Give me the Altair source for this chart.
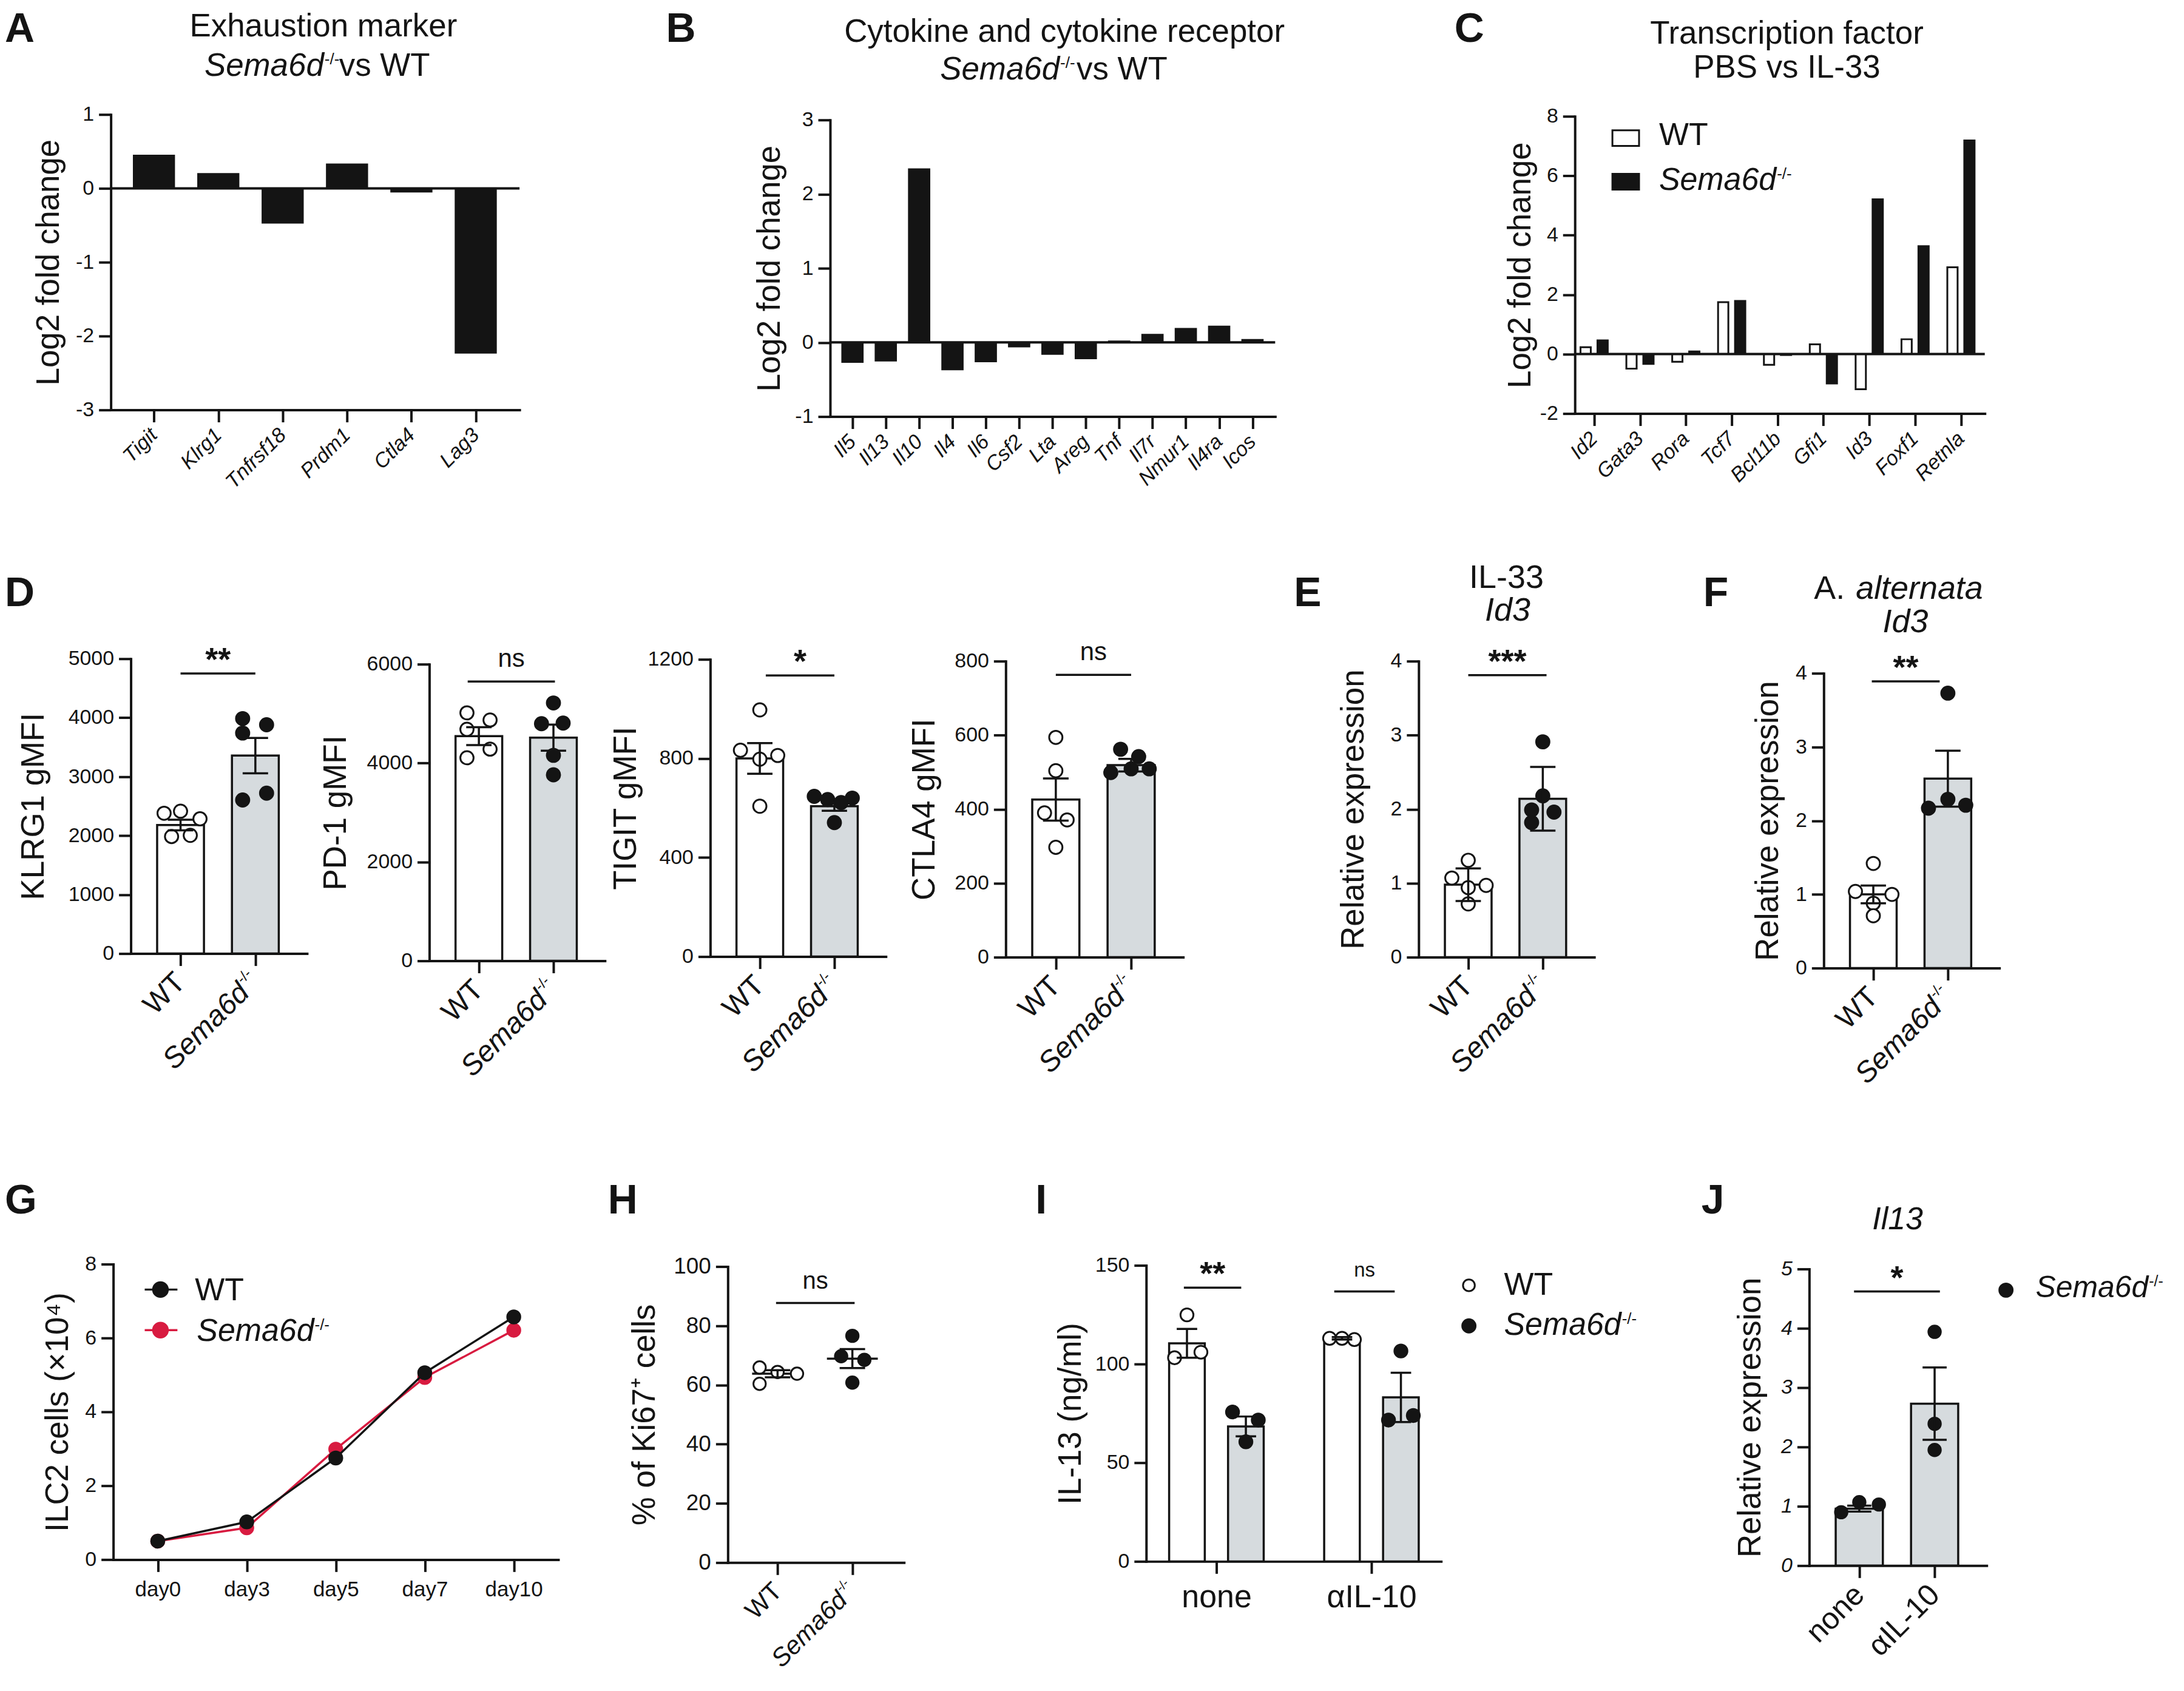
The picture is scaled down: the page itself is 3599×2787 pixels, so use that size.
import altair as alt
import pandas as pd

FONT = "Liberation Sans"
INK = "#141414"
GREY = "#d6dbde"
RED = "#d81b40"
WHITE = "#ffffff"

# ============================ values ============================
genotypes = ["WT", "Sema6d-/-"]
treatments = ["none", "\u03b1IL-10"]
days = ["day0", "day3", "day5", "day7", "day10"]

# A  exhaustion markers (log2 FC)
a_genes = ["Tigit", "Klrg1", "Tnfrsf18", "Prdm1", "Ctla4", "Lag3"]
a_lfc = [0.45, 0.20, -0.47, 0.33, -0.05, -2.23]

# B  cytokines / receptors (log2 FC)
b_genes = ["Il5", "Il13", "Il10", "Il4", "Il6", "Csf2", "Lta", "Areg", "Tnf", "Il7r", "Nmur1", "Il4ra", "Icos"]
b_lfc = [-0.27, -0.25, 2.34, -0.37, -0.26, -0.06, -0.16, -0.22, 0.02, 0.11, 0.19, 0.22, 0.04]

# C  transcription factors, PBS vs IL-33 (log2 FC)
c_genes = ["Id2", "Gata3", "Rora", "Tcf7", "Bcl11b", "Gfi1", "Id3", "Foxf1", "Retnla"]
c_wt = [0.23, -0.49, -0.26, 1.75, -0.36, 0.33, -1.18, 0.50, 2.92]
c_ko = [0.46, -0.33, 0.09, 1.79, -0.03, -0.99, 5.21, 3.63, 7.19]

# D  gMFI panels: means, SEM, individual mice, horizontal jitter slot of each dot
klrg1_mean = [2180, 3357]
klrg1_sem = [90, 300]
klrg1_wt = [2380, 2415, 2285, 1985, 2005]
klrg1_wt_jit = [-0.22, 0.0, 0.26, -0.12, 0.13]
klrg1_ko = [3985, 3880, 3740, 2605, 2720]
klrg1_ko_jit = [-0.17, 0.15, -0.17, -0.17, 0.15]

pd1_mean = [4545, 4514]
pd1_sem = [180, 265]
pd1_wt = [5016, 4871, 4683, 4107, 4282]
pd1_wt_jit = [-0.16, 0.15, -0.16, -0.16, 0.15]
pd1_ko = [5216, 4796, 4809, 4157, 3762]
pd1_ko_jit = [0.0, -0.16, 0.13, 0.0, 0.0]

tigit_mean = [800, 607]
tigit_sem = [62, 18]
tigit_wt = [996, 833, 797, 812, 607]
tigit_wt_jit = [0.0, -0.26, 0.0, 0.24, 0.0]
tigit_ko = [647, 634, 622, 640, 541]
tigit_ko_jit = [-0.27, -0.09, 0.09, 0.24, 0.0]

ctla4_mean = [426, 519]
ctla4_sem = [57, 17]
ctla4_wt = [594, 504, 390, 371, 297]
ctla4_wt_jit = [0.0, 0.0, -0.15, 0.15, 0.0]
ctla4_ko = [562, 542, 499, 509, 509]
ctla4_ko_jit = [-0.14, 0.10, -0.27, 0.0, 0.24]

# E  IL-33, Id3 relative expression
e_mean = [0.98, 2.14]
e_sem = [0.22, 0.43]
e_wt = [1.31, 1.07, 0.94, 0.97, 0.72]
e_wt_jit = [0.0, -0.22, 0.0, 0.24, 0.0]
e_ko = [2.91, 2.18, 1.99, 1.96, 1.82]
e_ko_jit = [0.0, 0.0, -0.15, 0.15, -0.15]

# F  A. alternata, Id3 relative expression
f_mean = [1.00, 2.57]
f_sem = [0.12, 0.38]
f_wt = [1.42, 1.04, 1.00, 0.88, 0.71]
f_wt_jit = [0.0, -0.24, 0.25, 0.0, 0.0]
f_ko = [3.73, 2.29, 2.17, 2.21]
f_ko_jit = [0.0, 0.0, -0.26, 0.24]

# G  ILC2 cells (x10^4)
g_wt = [0.50, 1.02, 2.75, 5.06, 6.57]
g_ko = [0.50, 0.86, 2.99, 4.93, 6.21]

# H  % Ki67+
h_mean = [63.8, 68.9]
h_sem = [1.2, 3.2]
h_wt = [65.9, 60.4, 64.4, 63.8]
h_wt_jit = [-0.24, -0.24, 0.0, 0.26]
h_ko = [76.6, 69.7, 68.5, 60.8]
h_ko_jit = [0.0, -0.15, 0.16, 0.0]

# I  IL-13 (ng/ml), by treatment
i_wt_mean = [110.5, 113.0]
i_wt_sem = [7.3, 0.6]
i_ko_mean = [68.4, 83.1]
i_ko_sem = [5.0, 12.5]
i_wt_pts = [124.9, 103.2, 106.0, 113.0, 113.0, 112.4]
i_wt_grp = [0, 0, 0, 1, 1, 1]
i_wt_jit = [0.0, -0.08, 0.09, -0.08, 0.0, 0.08]
i_ko_pts = [75.7, 71.6, 60.6, 106.6, 71.6, 73.9]
i_ko_grp = [0, 0, 0, 1, 1, 1]
i_ko_jit = [-0.086, 0.08, 0.0, 0.0, -0.08, 0.08]

# J  Il13 relative expression (Sema6d-/-)
j_mean = [0.96, 2.73]
j_sem = [0.05, 0.61]
j_none = [0.90, 1.07, 1.03]
j_none_jit = [-0.24, 0.0, 0.26]
j_ail = [3.94, 2.39, 1.95]
j_ail_jit = [0.0, 0.0, 0.0]

# significance bars: (level, x from, x to, label)
klrg1_sig = (4750, 0.0, 1.0, "**")
pd1_sig = (5650, -0.15, 1.02, "ns")
tigit_sig = (1135, 0.08, 1.0, "*")
ctla4_sig = (763, 0.0, 1.0, "ns")
e_sig = (3.81, 0.0, 1.05, "***")
f_sig = (3.89, -0.02, 0.89, "**")
h_sig = (87.7, -0.02, 1.03, "ns")
i_sig = [(138.7, -0.21, 0.16, "**"), (136.8, 0.76, 1.15, "ns")]
j_sig = (4.62, -0.07, 1.07, "*")

# ============================ layout: plot areas (x, y, w, h) in page pixels ============================
BOX = {
    "A": (183, 186, 675, 488), "B": (1371, 195, 735, 490), "C": (2601, 189, 677, 491),
    "D1": (216, 1085, 291, 487), "D2": (709, 1094, 290, 490), "D3": (1173, 1086, 290, 491),
    "D4": (1661, 1089, 293, 489), "E": (2343, 1089, 290, 489), "F": (3012, 1109, 290, 487),
    "G": (187, 2085, 735, 488), "H": (1202, 2089, 291, 489), "I": (1893, 2087, 487, 489),
    "J": (2988, 2093, 293, 490),
}
OX, OY = 8, 8          # page margin: view origin on the page
W, H = 3591, 2779      # whole drawing
TICK = 20
YLAB = 34              # y tick label size

ONE = pd.DataFrame({"d": [0]})
X2 = [-0.665, 1.69]
XL_PAD = 20
SEMA_EM = 3.724  # advance width of "Sema6d" (Arial metrics) in em
MINUS_FIX = "replace(datum.label, '\u2212', '-')"


def scales(key, xdom, ydom):
    x0, y0, w, h = BOX[key]
    xs = alt.Scale(domain=list(xdom), range=[x0 - OX, x0 - OX + w], nice=False, zero=False)
    ys = alt.Scale(domain=list(ydom), range=[y0 - OY + h, y0 - OY], nice=False, zero=False)
    return xs, ys


def yaxis(key, vals, title, tx, style=None, size=YLAB):
    x0, y0, w, h = BOX[key]
    kw = dict(values=vals, title=title, format="d", labelExpr=MINUS_FIX, labelFontSize=size, orient="left",
              offset=-(x0 - OX), titleX=tx, titleY=y0 - OY + h / 2, titleAngle=270,
              titleBaseline="middle", titleAlign="center")
    if style:
        kw["labelFontStyle"] = style
    return alt.Axis(**kw)


def xaxis(key, labels, size, angle, pad, style=None):
    x0, y0, w, h = BOX[key]
    expr = "[" + ",".join("'" + s + "'" for s in labels) + "][datum.value]"
    kw = dict(values=list(range(len(labels))), labelExpr=expr, title=None, labelFontSize=size,
              labelPadding=pad, labelFlush=False, labelOverlap=False, labelBound=False, labelLimit=0,
              orient="bottom", offset=(y0 - OY + h) - H)
    if angle:
        kw.update(labelAngle=angle, labelAlign="right", labelBaseline="middle")
    else:
        kw.update(labelAngle=0, labelAlign="center", labelBaseline="top")
    if style is not None:
        kw["labelFontStyle"] = style
    return alt.Axis(**kw)


class P:
    """x / y scales and axes of one panel, shared by all of its layers"""
    def __init__(self, key, xdom, ydom, xa, ya):
        self.key = key
        self.xs, self.ys = scales(key, xdom, ydom)
        self.xa, self.ya = xa, ya

    def X(self, f):
        return alt.X(f, scale=self.xs, axis=self.xa)

    def Y(self, f):
        return alt.Y(f, scale=self.ys, axis=self.ya)


def T(s, ax, ay, size, style="normal", weight="normal", align="left"):
    return alt.Chart(ONE).mark_text(text=s, font=FONT, fontSize=size, fontStyle=style, fontWeight=weight,
                                    align=align, baseline="alphabetic", color=INK).encode(
        x=alt.value(ax - OX), y=alt.value(ay - OY))


def T_sema(ax, ay, size, align="left"):
    w = SEMA_EM * size
    xl = ax if align == "left" else ax - w
    return [T("Sema6d", xl, ay, size, style="italic"),
            T("-/-", xl + w + 1, ay - 0.36 * size, round(size * 0.5))]


def sema_tick_label(p, pos, size, pad):
    """rotated 'Sema6d-/-' category label with a raised '-/-', anchored like an axis label"""
    x0, y0, w, h = BOX[p.key]
    yy = y0 - OY + h + TICK + pad
    d = pd.DataFrame({"x": [pos]})
    sup = round(size * 0.5)
    main = alt.Chart(d).mark_text(text="Sema6d", font=FONT, fontSize=size, fontStyle="italic", angle=315,
                                  align="right", baseline="middle", dx=-(0.944 * sup + 2), color=INK).encode(
        x=p.X("x:Q"), y=alt.value(yy))
    s = alt.Chart(d).mark_text(text="-/-", font=FONT, fontSize=sup, angle=315, align="right",
                               baseline="middle", dy=-0.3 * size, color=INK).encode(
        x=p.X("x:Q"), y=alt.value(yy))
    return [main, s]


def letter(ch, ax, ay):
    return T(ch, ax, ay, 68, weight="bold")


def rect_abs(xa, xb, ya, yb, fill):
    return alt.Chart(ONE).mark_rect(fill=fill, stroke=INK, strokeWidth=3).encode(
        x=alt.value(xa - OX), x2=alt.value(xb - OX), y=alt.value(ya - OY), y2=alt.value(yb - OY))


def rule_abs(xa, xb, y, color):
    return alt.Chart(ONE).mark_rule(color=color, strokeWidth=3.5).encode(
        x=alt.value(xa - OX), x2=alt.value(xb - OX), y=alt.value(y - OY))


def dot_abs(x, y, size, fill, stroke=INK):
    return alt.Chart(ONE).mark_point(shape="circle", filled=True, size=size, fill=fill, stroke=stroke,
                                     strokeWidth=3, opacity=1).encode(x=alt.value(x - OX), y=alt.value(y - OY))


def points(df, p, size, stroke=INK):
    return alt.Chart(df).mark_point(shape="circle", filled=True, size=size, stroke=stroke, strokeWidth=3,
                                    opacity=1).encode(x=p.X("x:Q"), y=p.Y("y:Q"),
                                                      fill=alt.Fill("col:N", scale=None))


def err_layers(xc, m, s, cap, p):
    e = pd.DataFrame({"x": xc, "lo": [a - b for a, b in zip(m, s)], "hi": [a + b for a, b in zip(m, s)]})
    caps = pd.DataFrame({"c1": [v - cap for v in xc] * 2, "c2": [v + cap for v in xc] * 2,
                         "y": list(e["lo"]) + list(e["hi"])})
    r = alt.Chart(e).mark_rule(color=INK, strokeWidth=3.5).encode(x=p.X("x:Q"), y=p.Y("lo:Q"), y2="hi:Q")
    c = alt.Chart(caps).mark_rule(color=INK, strokeWidth=3.5).encode(x=p.X("c1:Q"), x2="c2:Q", y=p.Y("y:Q"))
    return [r, c]


def sig_layers(sig, p, size=None):
    y, xa, xb, label = sig
    star = "*" in label
    fs = size or (54 if star else 42)
    d = pd.DataFrame({"x1": [xa], "x2": [xb], "y": [y], "xm": [(xa + xb) / 2], "t": [label]})
    r = alt.Chart(d).mark_rule(color=INK, strokeWidth=3.5).encode(x=p.X("x1:Q"), x2="x2:Q", y=p.Y("y:Q"))
    t = alt.Chart(d).mark_text(font=FONT, fontSize=fs, fontWeight="bold" if star else "normal", color=INK,
                               align="center", baseline="alphabetic", dy=-5 if star else -24).encode(
        x=p.X("xm:Q"), y=p.Y("y:Q"), text="t:N")
    return [r, t]


def zero_line(p, xdom):
    d = pd.DataFrame({"xa": [xdom[0]], "xb": [xdom[1]], "z": [0.0]})
    return alt.Chart(d).mark_rule(color=INK, strokeWidth=4).encode(x=p.X("xa:Q"), x2="xb:Q", y=p.Y("z:Q"))


# ------------------------------------------------------------------ A / B
def lfc_panel(key, genes, vals, ydom, yvals, ytx, extra):
    n = len(genes)
    xdom = [-0.67, n - 1 + 0.68]
    p = P(key, xdom, ydom, xaxis(key, genes, 34, 315, 16, "italic"),
          yaxis(key, yvals, "Log2 fold change", ytx))
    df = pd.DataFrame({"x1": [i - 0.32 for i in range(n)], "x2": [i + 0.32 for i in range(n)], "v": vals})
    bars = alt.Chart(df).mark_bar(fill=INK, stroke=INK, strokeWidth=1.5).encode(
        x=p.X("x1:Q"), x2="x2:Q", y=p.Y("v:Q"), y2=alt.datum(0))
    return alt.layer(bars, zero_line(p, xdom), *extra)


pa = lfc_panel("A", a_genes, a_lfc, [-3, 1], [-3, -2, -1, 0, 1], -102,
               [letter("A", 8, 66), T("Exhaustion marker", 534, 57, 53, align="center")]
               + T_sema(535, 122, 53, align="right") + [T("vs WT", 560, 122, 53)])

pb = lfc_panel("B", b_genes, b_lfc, [-1, 3], [-1, 0, 1, 2, 3], -100,
               [letter("B", 1100, 66), T("Cytokine and cytokine receptor", 1758, 66, 53, align="center")]
               + T_sema(1750, 128, 53, align="right") + [T("vs WT", 1778, 128, 53)])


# ------------------------------------------------------------------ C
def c_panel():
    key = "C"
    n = len(c_genes)
    xdom = [-0.42, 8.52]
    p = P(key, xdom, [-2, 8], xaxis(key, c_genes, 34, 315, 16, "italic"),
          yaxis(key, [-2, 0, 2, 4, 6, 8], "Log2 fold change", -90))
    xs_c = [i - 0.185 for i in range(n)] + [i + 0.185 for i in range(n)]
    df = pd.DataFrame({"x1": [v - 0.112 for v in xs_c], "x2": [v + 0.112 for v in xs_c],
                       "v": c_wt + c_ko, "col": [WHITE] * n + [INK] * n})
    bars = alt.Chart(df).mark_bar(stroke=INK, strokeWidth=3).encode(
        x=p.X("x1:Q"), x2="x2:Q", y=p.Y("v:Q"), y2=alt.datum(0), fill=alt.Fill("col:N", scale=None))
    extra = [letter("C", 2402, 66),
             T("Transcription factor", 2951, 69, 53, align="center"),
             T("PBS vs IL-33", 2951, 125, 53, align="center"),
             rect_abs(2663, 2707, 212, 238, WHITE), T("WT", 2740, 236, 52),
             rect_abs(2663, 2707, 284, 310, INK)] + T_sema(2740, 311, 52)
    return alt.layer(bars, zero_line(p, xdom), *extra)


pc = c_panel()


# ------------------------------------------------------------------ two-group bar + dot panels
def two_group(key, means, sems, fills, wt, wt_j, ko, ko_j, ydom, yvals, ytitle, ytx, sig, extra,
              geno=True, ylab_style=None, psize=480, half=0.313, cap=0.17, wt_fill=WHITE, ko_fill=INK,
              xl_size=48):
    if geno:
        xa = xaxis(key, ["WT", ""], xl_size, 315, XL_PAD)
    else:
        xa = xaxis(key, treatments, xl_size, 315, XL_PAD)
    p = P(key, X2, ydom, xa, yaxis(key, yvals, ytitle, ytx, ylab_style))
    bars = pd.DataFrame({"x1": [0 - half, 1 - half], "x2": [0 + half, 1 + half], "m": means, "col": fills})
    layers = [alt.Chart(bars).mark_bar(stroke=INK, strokeWidth=3.5).encode(
        x=p.X("x1:Q"), x2="x2:Q", y=p.Y("m:Q"), y2=alt.datum(0), fill=alt.Fill("col:N", scale=None))]
    pts = pd.DataFrame({"x": [j for j in wt_j] + [1 + j for j in ko_j], "y": wt + ko,
                        "col": [wt_fill] * len(wt) + [ko_fill] * len(ko)})
    layers.append(points(pts, p, psize))
    layers += err_layers([0, 1], means, sems, cap, p)
    layers += sig_layers(sig, p)
    if geno:
        layers += sema_tick_label(p, 1, xl_size, XL_PAD)
    layers += extra
    return alt.layer(*layers)


pd1 = two_group("D1", klrg1_mean, klrg1_sem, [WHITE, GREY], klrg1_wt, klrg1_wt_jit, klrg1_ko, klrg1_ko_jit,
                [0, 5000], [0, 1000, 2000, 3000, 4000, 5000], "KLRG1 gMFI", -160, klrg1_sig,
                [letter("D", 8, 998)])
pd2 = two_group("D2", pd1_mean, pd1_sem, [WHITE, GREY], pd1_wt, pd1_wt_jit, pd1_ko, pd1_ko_jit,
                [0, 6000], [0, 2000, 4000, 6000], "PD-1 gMFI", -154, pd1_sig, [])
pd3 = two_group("D3", tigit_mean, tigit_sem, [WHITE, GREY], tigit_wt, tigit_wt_jit, tigit_ko, tigit_ko_jit,
                [0, 1200], [0, 400, 800, 1200], "TIGIT gMFI", -139, tigit_sig, [])
pd4 = two_group("D4", ctla4_mean, ctla4_sem, [WHITE, GREY], ctla4_wt, ctla4_wt_jit, ctla4_ko, ctla4_ko_jit,
                [0, 800], [0, 200, 400, 600, 800], "CTLA4 gMFI", -134, ctla4_sig, [])
pe = two_group("E", e_mean, e_sem, [WHITE, GREY], e_wt, e_wt_jit, e_ko, e_ko_jit,
               [0, 4], [0, 1, 2, 3, 4], "Relative expression", -107, e_sig,
               [letter("E", 2137, 998), T("IL-33", 2488, 968, 54, align="center"),
                T("Id3", 2490, 1022, 54, style="italic", align="center")])
pf = two_group("F", f_mean, f_sem, [WHITE, GREY], f_wt, f_wt_jit, f_ko, f_ko_jit,
               [0, 4], [0, 1, 2, 3, 4], "Relative expression", -92, f_sig,
               [letter("F", 2813, 998), T("A.", 2996, 986, 54),
                T("alternata", 3065, 986, 54, style="italic"),
                T("Id3", 3147, 1041, 54, style="italic", align="center")])
pj = two_group("J", j_mean, j_sem, [GREY, GREY], j_none, j_none_jit, j_ail, j_ail_jit,
               [0, 5], [0, 1, 2, 3, 4, 5], "Relative expression", -97, j_sig,
               [letter("J", 2810, 2001), T("Il13", 3134, 2027, 52, style="italic", align="center"),
                dot_abs(3313, 2128, 480, INK)] + T_sema(3362, 2140, 50),
               geno=False, ylab_style="italic", psize=420, cap=0.16, wt_fill=INK, ko_fill=INK, xl_size=50)


# ------------------------------------------------------------------ G
def g_panel():
    key = "G"
    p = P(key, [-0.5, 4.5], [0, 8], xaxis(key, days, 35, 0, 12),
          yaxis(key, [0, 2, 4, 6, 8], "ILC2 cells (\u00d710\u2074)", -91))
    ko = pd.DataFrame({"x": list(range(len(days))), "y": g_ko})
    wt = pd.DataFrame({"x": list(range(len(days))), "y": g_wt})
    l_ko = alt.Chart(ko).mark_line(color=RED, strokeWidth=3.5).encode(x=p.X("x:Q"), y=p.Y("y:Q"))
    p_ko = alt.Chart(ko).mark_point(shape="circle", filled=True, size=600, color=RED, opacity=1).encode(
        x=p.X("x:Q"), y=p.Y("y:Q"))
    l_wt = alt.Chart(wt).mark_line(color=INK, strokeWidth=3.5).encode(x=p.X("x:Q"), y=p.Y("y:Q"))
    p_wt = alt.Chart(wt).mark_point(shape="circle", filled=True, size=600, color=INK, opacity=1).encode(
        x=p.X("x:Q"), y=p.Y("y:Q"))
    extra = [letter("G", 8, 2001),
             rule_abs(239, 293, 2127, INK), dot_abs(265, 2127, 600, INK, INK),
             T("WT", 322, 2145, 52),
             rule_abs(239, 293, 2194, RED), dot_abs(265, 2194, 600, RED, RED)] + T_sema(325, 2212, 52)
    return alt.layer(l_ko, p_ko, l_wt, p_wt, *extra)


pg = g_panel()


# ------------------------------------------------------------------ H
def h_panel():
    key = "H"
    p = P(key, X2, [0, 100], xaxis(key, ["WT", ""], 42, 315, XL_PAD),
          yaxis(key, [0, 20, 40, 60, 80, 100], "% of Ki67\u207a cells", -137, size=37))
    mean = pd.DataFrame({"x1": [-0.34, 1 - 0.34], "x2": [0.34, 1.34], "m": h_mean})
    base = alt.Chart(mean).mark_rule(color=INK, strokeWidth=3.5).encode(x=p.X("x1:Q"), x2="x2:Q", y=p.Y("m:Q"))
    pts = pd.DataFrame({"x": h_wt_jit + [1 + j for j in h_ko_jit], "y": h_wt + h_ko,
                        "col": [WHITE] * len(h_wt) + [INK] * len(h_ko)})
    layers = [base, points(pts, p, 420)] + err_layers([0, 1], h_mean, h_sem, 0.17, p)
    layers += sig_layers(h_sig, p, size=40)
    layers += sema_tick_label(p, 1, 42, XL_PAD)
    layers += [letter("H", 1004, 2001)]
    return alt.layer(*layers)


ph = h_panel()


# ------------------------------------------------------------------ I
def i_panel():
    key = "I"
    p = P(key, [-0.453, 1.449], [0, 150], xaxis(key, treatments, 52, 0, 14),
          yaxis(key, [0, 50, 100, 150], "IL-13 (ng/ml)", -125))
    xc = [-0.19, 1 - 0.19, 0.19, 1.19]
    means = i_wt_mean + i_ko_mean
    sems = i_wt_sem + i_ko_sem
    bars = pd.DataFrame({"x1": [v - 0.115 for v in xc], "x2": [v + 0.115 for v in xc], "m": means,
                         "col": [WHITE, WHITE, GREY, GREY]})
    base = alt.Chart(bars).mark_bar(stroke=INK, strokeWidth=3.5).encode(
        x=p.X("x1:Q"), x2="x2:Q", y=p.Y("m:Q"), y2=alt.datum(0), fill=alt.Fill("col:N", scale=None))
    pts = pd.DataFrame({"x": [g - 0.19 + j for g, j in zip(i_wt_grp, i_wt_jit)]
                        + [g + 0.19 + j for g, j in zip(i_ko_grp, i_ko_jit)],
                        "y": i_wt_pts + i_ko_pts,
                        "col": [WHITE] * len(i_wt_pts) + [INK] * len(i_ko_pts)})
    layers = [base, points(pts, p, 460)] + err_layers(xc, means, sems, 0.066, p)
    layers += sig_layers(i_sig[0], p) + sig_layers(i_sig[1], p, size=33)
    layers += [letter("I", 1710, 2001),
               dot_abs(2426, 2120, 380, WHITE), T("WT", 2484, 2136, 52),
               dot_abs(2426, 2187, 480, INK)] + T_sema(2484, 2202, 52)
    return alt.layer(*layers)


pi = i_panel()

# ============================ one drawing, every panel with its own scales ============================
chart = alt.layer(pa, pb, pc, pd1, pd2, pd3, pd4, pe, pf, pg, ph, pi, pj).resolve_scale(
    x="independent", y="independent").properties(
    width=W, height=H, padding=0, autosize=alt.AutoSizeParams(type="none"))
chart = chart.configure(font=FONT).configure_view(stroke=None).configure_axis(
    domainColor=INK, domainWidth=4, domainCap="square", tickColor=INK, tickWidth=4, tickSize=TICK,
    labelColor=INK, labelFont=FONT, labelFontSize=YLAB, labelPadding=8,
    titleColor=INK, titleFont=FONT, titleFontSize=53, titleFontWeight="normal", grid=False)

chart.save("out.html", embed_options={"renderer": "svg", "actions": False})
